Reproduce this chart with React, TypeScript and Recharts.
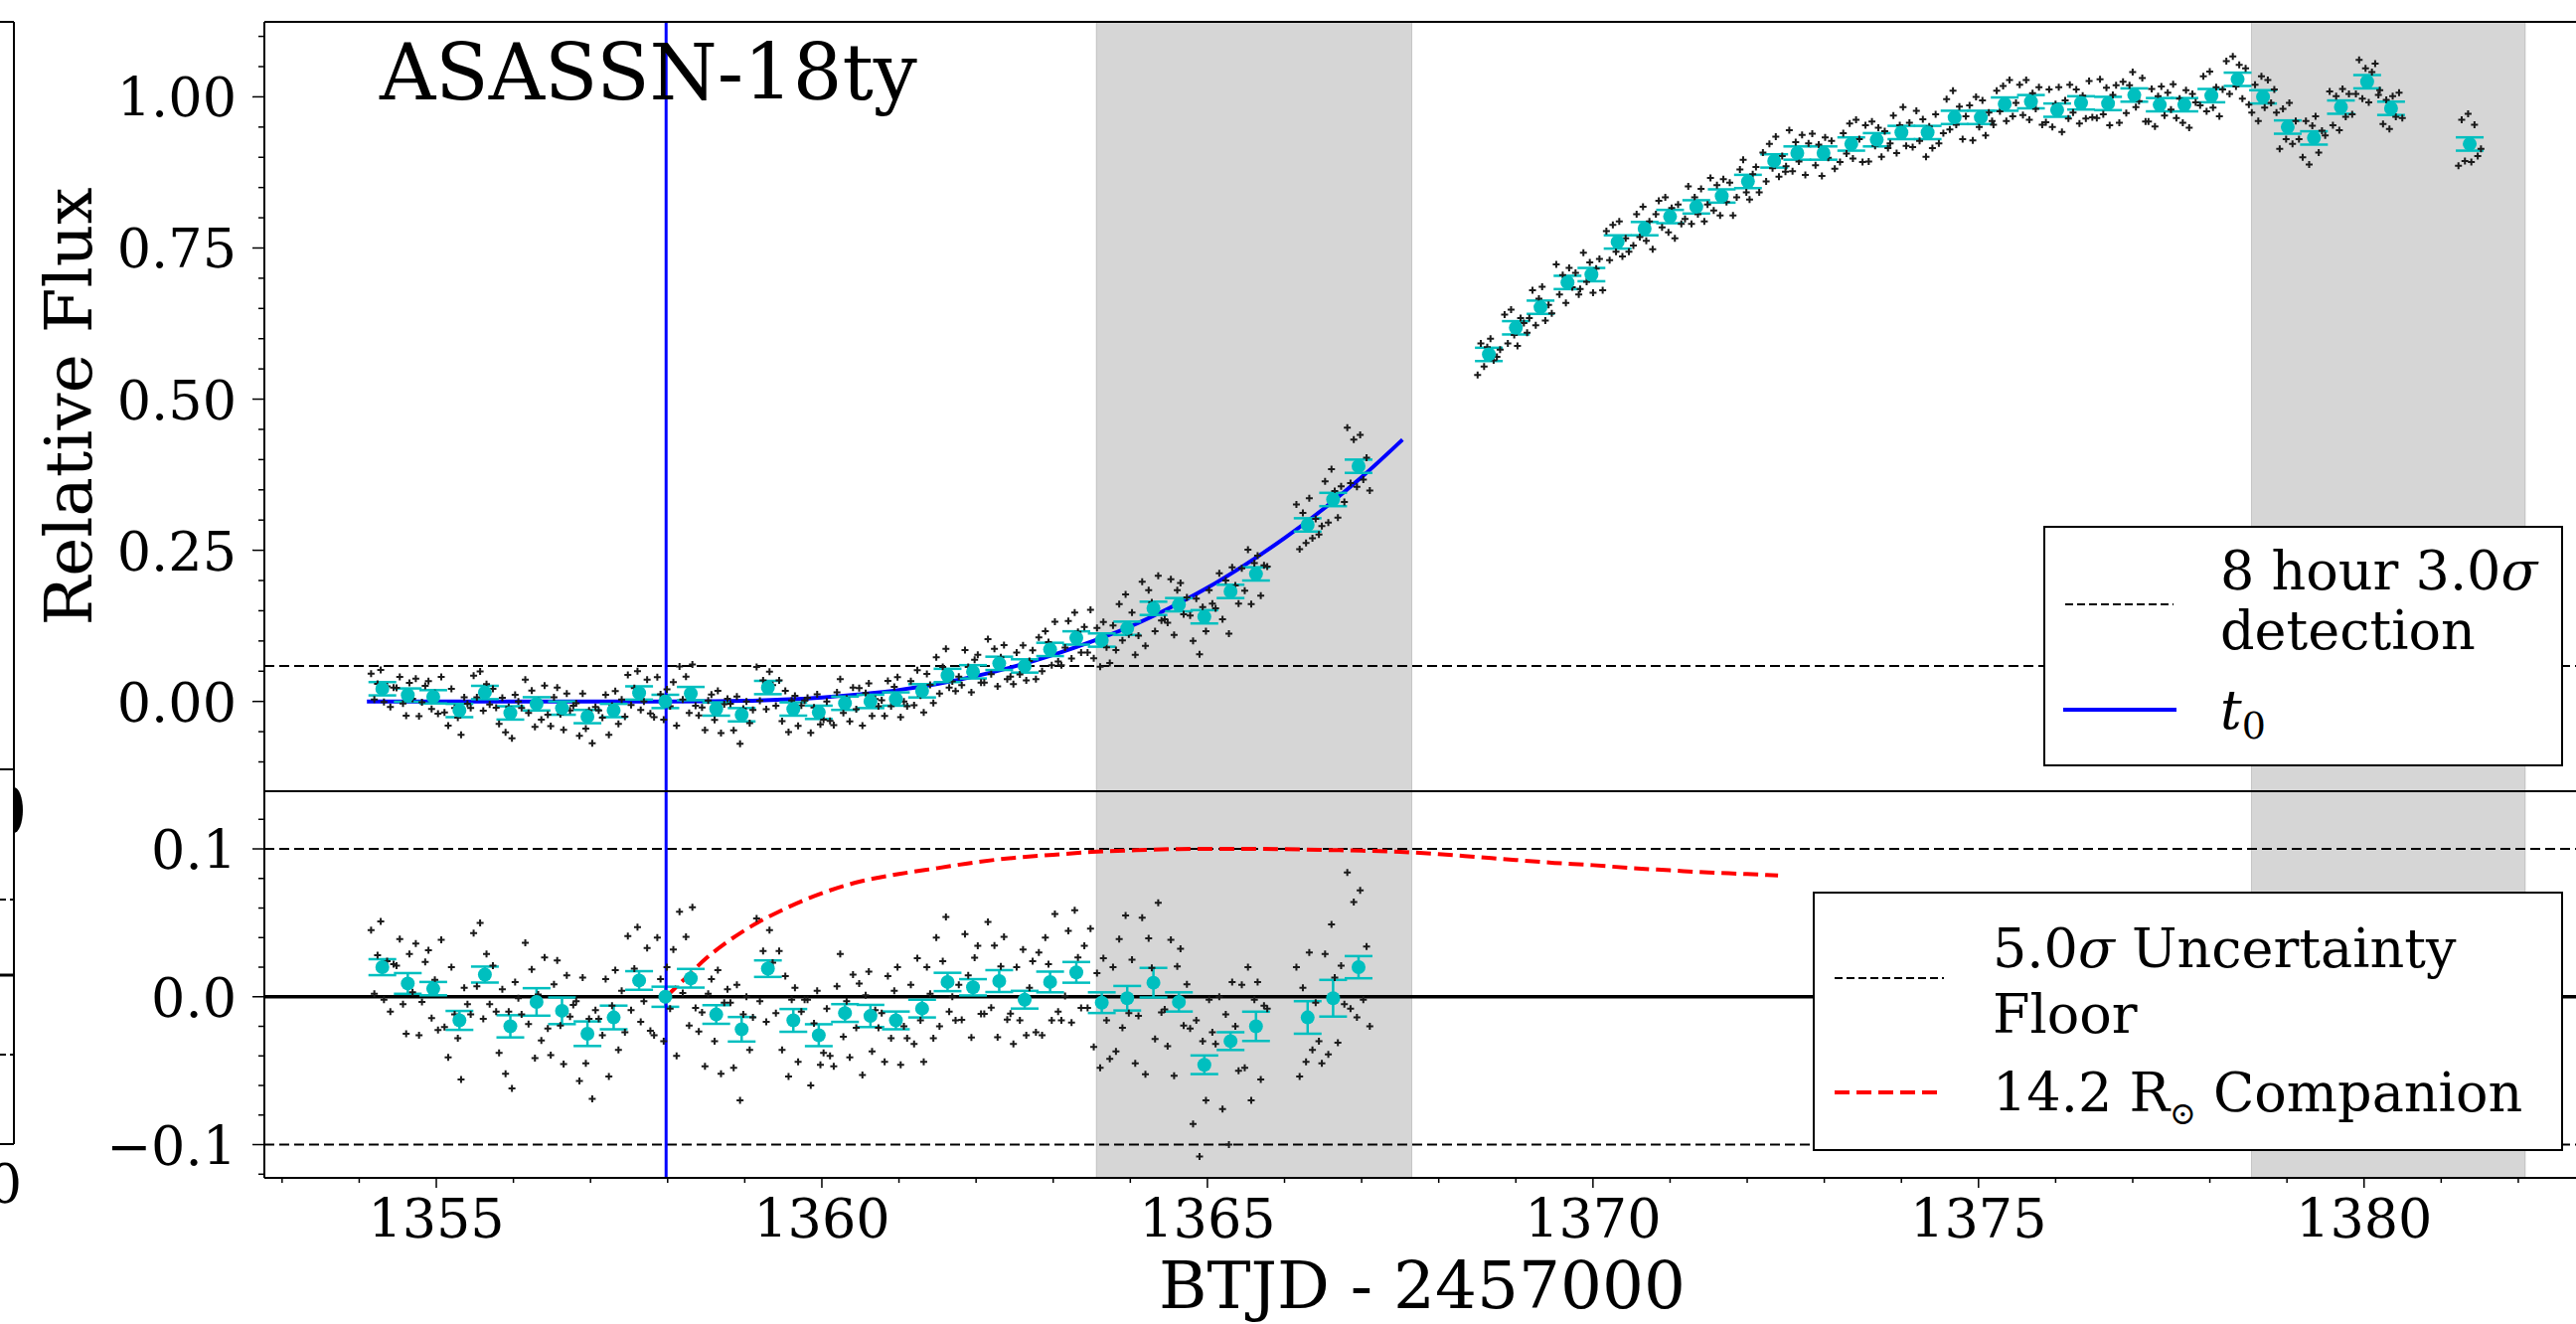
import React from 'react';
import { ComposedChart, Scatter, Line, XAxis, YAxis, ReferenceLine, ReferenceArea, ErrorBar } from 'recharts';

const FONT = '"DejaVu Serif", serif';
const CYAN = '#00bfbf';

// 8 hour bins, before the data gap (top: flux, bottom: residual from fit)
const earlyBinTime = [
  1354.30, 1354.63, 1354.96, 1355.30, 1355.63, 1355.96, 1356.30, 1356.63, 1356.96, 1357.30,
  1357.63, 1357.97, 1358.30, 1358.63, 1358.96, 1359.30, 1359.63, 1359.96, 1360.30, 1360.63,
  1360.96, 1361.30, 1361.63, 1361.96, 1362.30, 1362.63, 1362.96, 1363.30, 1363.63, 1363.96,
  1364.30, 1364.63, 1364.96, 1365.30, 1365.63, 1366.30, 1366.63, 1366.96,
];
const earlyBinFlux = [
  0.021, 0.0105, 0.0077, -0.015, 0.0148, -0.019, -0.004, -0.011, -0.025, -0.015,
  0.014, 0.0, 0.013, -0.0125, -0.022, 0.023, -0.0125, -0.018, -0.003, 0.0,
  0.004, 0.0176, 0.043, 0.049, 0.063, 0.0587, 0.086, 0.105, 0.1015, 0.121,
  0.154, 0.16, 0.14, 0.182, 0.211, 0.292, 0.334, 0.389,
];
const earlyBinResid = [
  0.02, 0.009, 0.0055, -0.016, 0.015, -0.02, -0.0035, -0.0095, -0.025, -0.014,
  0.011, 0.0, 0.0125, -0.012, -0.022, 0.019, -0.016, -0.026, -0.011, -0.013,
  -0.016, -0.008, 0.01, 0.0064, 0.0106, -0.002, 0.01, 0.0165, -0.004, -0.001,
  0.0095, -0.0035, -0.046, -0.03, -0.02, -0.014, -0.001, 0.02,
];
const earlyBinResidErr = [
  0.0054, 0.007, 0.0045, 0.0064, 0.0054, 0.0075, 0.0093, 0.009, 0.0083, 0.008,
  0.0063, 0.0068, 0.0063, 0.0063, 0.0083, 0.0056, 0.0077, 0.0074, 0.006, 0.0075,
  0.006, 0.006, 0.0062, 0.0055, 0.0074, 0.006, 0.007, 0.007, 0.007, 0.0083,
  0.01, 0.0065, 0.0063, 0.006, 0.0099, 0.011, 0.0124, 0.0075,
];

// 8 hour bins after the gap
const lateBinTime = [
  1368.65, 1369.0, 1369.32, 1369.67, 1369.98, 1370.32, 1370.67, 1371.0, 1371.34, 1371.67,
  1372.01, 1372.35, 1372.65, 1372.99, 1373.35, 1373.68, 1374.0, 1374.34, 1374.69, 1375.03,
  1375.34, 1375.68, 1376.02, 1376.33, 1376.68, 1377.02, 1377.35, 1377.67, 1378.02, 1378.36,
  1378.69, 1379.01, 1379.35, 1379.7, 1380.04, 1380.35, 1381.37,
];
const lateBinFlux = [
  0.574, 0.618, 0.652, 0.693, 0.706, 0.76, 0.782, 0.802, 0.818, 0.836,
  0.86, 0.894, 0.907, 0.907, 0.922, 0.929, 0.941, 0.941, 0.966, 0.966,
  0.988, 0.992, 0.978, 0.99, 0.989, 1.003, 0.987, 0.987, 1.002, 1.029,
  1.0, 0.95, 0.932, 0.983, 1.025, 0.981, 0.922,
];
const binFluxErr = 0.011;

// offsets of the raw cadences inside a bin (days)
const cadenceOffsets = [-0.146, -0.104, -0.062, -0.021, 0.021, 0.062, 0.104, 0.146];

// raw scatter around each bin, in units of 0.001
const earlyScatter = [
  [25, -18, 8, 31, -22, 4, -30, 2], [12, 30, -14, -34, 20, -6, 27, -35],
  [-9, 18, 26, -20, 6, -28, 33, -26], [-25, 36, 4, -12, -40, 22, 11, 4],
  [28, -8, 35, -30, 14, -20, 6, -25], [-18, 25, -32, 10, -42, 30, 19, 8],
  [40, -15, 22, -38, 5, -26, 30, -18], [-30, 18, 34, -10, -36, 24, -4, 4],
  [22, -32, 38, -20, 10, -44, 16, 10], [-12, 26, -40, 8, 32, -22, 18, -10],
  [30, -20, 8, 36, -28, -14, 22, -34], [-26, 40, 12, -30, 20, -8, 32, -40],
  [45, -10, 28, -32, 48, -20, -36, -23], [-35, 14, 24, -18, 30, -40, 8, 17],
  [18, -26, 30, -48, 10, 22, -14, 8], [34, -22, 12, -36, 26, 4, -30, 12],
  [-20, 30, -38, 14, 22, -28, 6, 14], [24, -34, 8, 30, -20, -12, 18, -14],
  [-36, 18, 40, -16, 8, -30, 26, -10], [22, -40, 14, 30, -24, 4, -8, 2],
  [-28, 30, -12, 20, 36, -30, -4, -12], [16, -24, 34, -8, -36, 28, 10, -20],
  [30, -30, 14, 44, -20, -10, -26, -2], [-22, 36, 8, -34, 20, 28, -18, -18],
  [40, -18, 24, -38, 10, 30, -26, -22], [-30, 22, -14, 34, -24, 8, 26, -22],
  [20, -36, 30, 12, -26, 46, -20, -26], [-16, 28, -34, 42, 10, -24, 18, -24],
  [50, -30, 20, -44, 30, -12, -38, 24], [-36, 40, -20, 56, -10, 26, -44, -12],
  [44, -62, 30, 10, -38, 54, -20, -18], [-30, 42, -50, 24, 36, -16, 12, -18],
  [-40, 30, -62, 16, -24, 44, 22, 14], [30, -46, 18, -70, 40, 10, -20, 38],
  [-28, 40, -50, 18, 30, -36, 14, 12], [34, -40, 20, -30, 44, -22, 10, -16],
  [-44, 30, -38, 50, 14, -30, 22, -4], [64, -28, 44, -34, 52, -22, 14, -40],
];
const lateScatter = [
  [-34, 18, -20, 12, 26, -10, -4, 8], [22, -26, 30, -12, -30, 16, 8, -8],
  [-18, 28, -30, 14, 34, -22, 4, -10], [30, -20, 12, -34, 24, -8, 16, -20],
  [-24, 36, -12, 20, -30, 10, 26, -26], [18, -30, 28, -16, 34, -24, 6, -16],
  [-28, 24, -14, 36, -20, 12, -34, 24], [26, -18, 32, -26, 14, -36, 20, -12],
  [-20, 34, -28, 16, -12, 30, -24, 4], [30, -24, 18, -32, 28, -10, 22, -32],
  [-26, 20, 36, -18, -30, 12, 24, -18], [14, -34, 28, -12, 40, -26, 8, -18],
  [-22, 38, -30, 18, -14, 30, -36, 16], [32, -20, 14, -38, 26, -8, 20, -26],
  [-30, 18, -16, 34, -24, 40, 8, -30], [24, -36, 30, -10, 20, -28, 14, -14],
  [-18, 28, -34, 12, 42, -22, 16, -24], [36, -14, 22, -40, 10, -26, 30, -18],
  [-26, 30, -20, 44, -12, 18, -36, 2], [20, -38, 34, -16, 28, -30, 8, -6],
  [-34, 22, -12, 30, -28, 40, -20, 2], [28, -22, 36, -30, 14, -12, 24, -38],
  [-20, 34, -28, 10, 38, -36, 16, -14], [30, -16, 22, -34, 12, -26, 36, -24],
  [-24, 40, -18, 26, -36, 14, 30, -32], [22, -30, 16, 38, -20, -10, 28, -44],
  [-28, 26, -36, 14, 30, -18, 20, -8], [34, -22, 10, -30, 24, -38, 18, 4],
  [-16, 32, -26, 40, -20, 14, -34, 10], [30, -24, 38, -12, 24, -32, 18, -42],
  [-26, 20, -40, 34, -18, 28, -10, 12], [24, -36, 30, -20, 40, -28, 10, -20],
  [-32, 28, -44, 20, 36, -24, 12, 4], [26, -30, 18, -38, 30, -16, 22, -12],
  [-20, 36, -28, 22, -34, 16, 30, -22], [30, -26, 14, -34, 20, -14, 26, -16],
  [-36, 40, -28, 50, -30, 32, -20, -8],
];

// power-law rise fit
const fitTime = [1354.1, 1355, 1356, 1357, 1357.98, 1358.5, 1359, 1359.5, 1360, 1360.5, 1361, 1361.5,
  1362, 1362.5, 1363, 1363.5, 1364, 1364.5, 1365, 1365.5, 1366, 1366.5, 1367, 1367.53];
const fitFlux = [0, 0, 0, 0, 0, 0.0002, 0.001, 0.003, 0.0066, 0.012, 0.019, 0.029,
  0.042, 0.058, 0.077, 0.099, 0.124, 0.154, 0.188, 0.227, 0.27, 0.318, 0.371, 0.433];

// companion interaction signal
const compTime = [1357.98, 1358.2, 1358.5, 1359, 1359.5, 1360, 1360.5, 1361, 1361.5, 1362, 1362.5,
  1363, 1363.5, 1364, 1364.5, 1365, 1365.5, 1366, 1366.5, 1367, 1367.5, 1368, 1368.5, 1369,
  1369.5, 1370, 1370.5, 1371, 1371.5, 1372, 1372.4];
const compResid = [0, 0.011, 0.026, 0.045, 0.059, 0.07, 0.078, 0.083, 0.087, 0.091, 0.094,
  0.096, 0.098, 0.099, 0.0998, 0.1, 0.1, 0.0998, 0.0993, 0.0988, 0.098, 0.0965, 0.0945, 0.0925,
  0.0905, 0.089, 0.087, 0.0855, 0.084, 0.083, 0.082];

const t0 = 1357.98;
const detectionLimit = 0.0587;
const floorLimit = 0.1;
const gapBands = [[1363.56, 1367.65], [1378.54, 1382.09]];

const xTicks = [1353, 1354, 1355, 1356, 1357, 1358, 1359, 1360, 1361, 1362, 1363, 1364, 1365, 1366, 1367,
  1368, 1369, 1370, 1371, 1372, 1373, 1374, 1375, 1376, 1377, 1378, 1379, 1380, 1381, 1382];
const fluxTicks = [-0.1, -0.05, 0, 0.05, 0.1, 0.15, 0.2, 0.25, 0.3, 0.35, 0.4, 0.45, 0.5, 0.55, 0.6,
  0.65, 0.7, 0.75, 0.8, 0.85, 0.9, 0.95, 1, 1.05, 1.1];
const residTicks = [-0.12, -0.1, -0.08, -0.06, -0.04, -0.02, 0, 0.02, 0.04, 0.06, 0.08, 0.1, 0.12];

const X_DOMAIN = [1352.77, 1382.8];

const fluxBins = [
  ...earlyBinTime.map((t, i) => ({ t, v: earlyBinFlux[i], err: binFluxErr })),
  ...lateBinTime.map((t, i) => ({ t, v: lateBinFlux[i], err: binFluxErr })),
];
const residBins = earlyBinTime.map((t, i) => ({ t, v: earlyBinResid[i], err: earlyBinResidErr[i] }));

const rawFlux: { t: number; v: number }[] = [];
const rawResid: { t: number; v: number }[] = [];
earlyBinTime.forEach((t, i) => {
  earlyScatter[i].forEach((s, j) => {
    rawFlux.push({ t: t + cadenceOffsets[j], v: earlyBinFlux[i] + s / 1000 });
    rawResid.push({ t: t + cadenceOffsets[j], v: earlyBinResid[i] + s / 1000 });
  });
});
lateBinTime.forEach((t, i) => {
  lateScatter[i].forEach((s, j) => {
    rawFlux.push({ t: t + cadenceOffsets[j], v: lateBinFlux[i] + s / 1000 });
  });
});

const fitCurve = fitTime.map((t, i) => ({ t, v: fitFlux[i] }));
const companionCurve = compTime.map((t, i) => ({ t, v: compResid[i] }));

const renderPlus = (p: any) => (
  <path d={`M${p.cx - 3.5},${p.cy}h7M${p.cx},${p.cy - 3.5}v7`} stroke="#1a1a1a" strokeWidth={2} />
);
const renderBin = (p: any) => <circle cx={p.cx} cy={p.cy} r={7} fill={CYAN} />;

const near = (v: number, step: number) => Math.abs(v / step - Math.round(v / step)) < 1e-6;

const FluxTick = (p: any) => {
  const v = p.payload.value;
  const major = near(v, 0.25);
  return (
    <g>
      <line x1={p.x} x2={p.x - (major ? 12 : 6)} y1={p.y} y2={p.y} stroke="#000" strokeWidth={1.5} />
      {major && (
        <text x={p.x - 28} y={p.y + 20} textAnchor="end" fontSize={54} fontFamily={FONT} fill="#000">
          {v.toFixed(2)}
        </text>
      )}
    </g>
  );
};

const ResidTick = (p: any) => {
  const v = p.payload.value;
  const major = near(v, 0.1);
  const label = v < 0 ? '\u2212' + Math.abs(v).toFixed(1) : v.toFixed(1);
  return (
    <g>
      <line x1={p.x} x2={p.x - (major ? 12 : 6)} y1={p.y} y2={p.y} stroke="#000" strokeWidth={1.5} />
      {major && (
        <text x={p.x - 28} y={p.y + 20} textAnchor="end" fontSize={54} fontFamily={FONT} fill="#000">
          {label}
        </text>
      )}
    </g>
  );
};

const TimeTick = (p: any) => {
  const v = p.payload.value;
  const major = near(v, 5);
  return (
    <g>
      <line x1={p.x} x2={p.x} y1={p.y} y2={p.y + (major ? 10 : 5)} stroke="#000" strokeWidth={1.5} />
      {major && (
        <text x={p.x} y={p.y + 60} textAnchor="middle" fontSize={54} fontFamily={FONT} fill="#000">
          {v}
        </text>
      )}
    </g>
  );
};

const bands = () =>
  gapBands.map(([a, b], i) => (
    <ReferenceArea key={`band-${i}`} x1={a} x2={b} fill="#808080" fillOpacity={0.32}
      stroke="#808080" strokeOpacity={0.35} />
  ));

const App: React.FC = () => {
  return (
    <div style={{ position: 'absolute', left: 0, top: 0, width: 2592, height: 1332, overflow: 'hidden', background: '#fff' }}>
      <div style={{ position: 'absolute', left: 0, top: 0 }}>
        <ComposedChart width={2600} height={800} margin={{ top: 22, right: 4, bottom: 4, left: 0 }}>
          <XAxis type="number" dataKey="t" domain={X_DOMAIN} hide allowDataOverflow />
          <YAxis type="number" dataKey="v" domain={[-0.1485, 1.124]} ticks={fluxTicks} interval={0}
            width={266} tickSize={0} tickMargin={0} tickLine={false}
            axisLine={{ stroke: '#000', strokeWidth: 2 }} tick={(p: any) => <FluxTick {...p} />} allowDataOverflow />
          {bands()}
          <ReferenceLine y={detectionLimit} stroke="#000" strokeWidth={2} strokeDasharray="10 5" />
          <Scatter data={rawFlux} shape={renderPlus} isAnimationActive={false} />
          <Line data={fitCurve} dataKey="v" type="monotone" stroke="#0000ff" strokeWidth={4}
            dot={false} isAnimationActive={false} />
          <Scatter data={fluxBins} shape={renderBin} isAnimationActive={false}>
            <ErrorBar dataKey="err" direction="y" width={14} stroke={CYAN} strokeWidth={2.5} isAnimationActive={false} />
          </Scatter>
          <ReferenceLine x={t0} stroke="#0000ff" strokeWidth={3} />
        </ComposedChart>
      </div>

      <div style={{ position: 'absolute', left: 0, top: 700 }}>
        <ComposedChart width={2600} height={632} margin={{ top: 96, right: 4, bottom: 0, left: 0 }}>
          <XAxis type="number" dataKey="t" domain={X_DOMAIN} ticks={xTicks} interval={0} height={147}
            tickSize={0} tickMargin={0} tickLine={false} axisLine={{ stroke: '#000', strokeWidth: 2 }}
            tick={(p: any) => <TimeTick {...p} />} allowDataOverflow />
          <YAxis type="number" dataKey="v" domain={[-0.1225, 0.139]} ticks={residTicks} interval={0}
            width={266} tickSize={0} tickMargin={0} tickLine={false}
            axisLine={{ stroke: '#000', strokeWidth: 2 }} tick={(p: any) => <ResidTick {...p} />} allowDataOverflow />
          {bands()}
          <ReferenceLine y={floorLimit} stroke="#000" strokeWidth={2} strokeDasharray="10 5" />
          <ReferenceLine y={-floorLimit} stroke="#000" strokeWidth={2} strokeDasharray="10 5" />
          <ReferenceLine y={0} stroke="#000" strokeWidth={3.5} />
          <Scatter data={rawResid} shape={renderPlus} isAnimationActive={false} />
          <Line data={companionCurve} dataKey="v" type="monotone" stroke="#ff0000" strokeWidth={4}
            strokeDasharray="15 7" dot={false} isAnimationActive={false} />
          <Scatter data={residBins} shape={renderBin} isAnimationActive={false}>
            <ErrorBar dataKey="err" direction="y" width={14} stroke={CYAN} strokeWidth={2.5} isAnimationActive={false} />
          </Scatter>
          <ReferenceLine x={t0} stroke="#0000ff" strokeWidth={3} />
        </ComposedChart>
      </div>

      <svg width={2592} height={1332} style={{ position: 'absolute', left: 0, top: 0, pointerEvents: 'none' }}
        fontFamily={FONT}>
        <line x1={266} x2={2592} y1={22} y2={22} stroke="#000" strokeWidth={2} />
        <line x1={266} x2={2592} y1={796} y2={796} stroke="#000" strokeWidth={2} />

        {/* edge of the neighbouring panel */}
        <line x1={14} x2={14} y1={22} y2={1151} stroke="#000" strokeWidth={2} />
        <line x1={0} x2={14} y1={22} y2={22} stroke="#000" strokeWidth={2} />
        <line x1={0} x2={14} y1={774} y2={774} stroke="#000" strokeWidth={2} />
        <path d="M14,792 A9,23 0 0 1 14,838 Z" fill="#000" />
        <line x1={0} x2={14} y1={905} y2={905} stroke="#000" strokeWidth={2} strokeDasharray="6 4" />
        <line x1={0} x2={14} y1={981} y2={981} stroke="#000" strokeWidth={3} />
        <line x1={0} x2={14} y1={1061} y2={1061} stroke="#000" strokeWidth={2} strokeDasharray="6 4" />
        <line x1={0} x2={14} y1={1151} y2={1151} stroke="#000" strokeWidth={2} />
        <text x={5} y={1210} textAnchor="middle" fontSize={54}>0</text>

        <text x={382} y={100} fontSize={78}>ASASSN-18ty</text>
        <text transform="translate(92,409) rotate(-90)" textAnchor="middle" fontSize={66}>Relative Flux</text>
        <text x={1431} y={1316} textAnchor="middle" fontSize={66}>BTJD - 2457000</text>

        <rect x={2057} y={530} width={521} height={240} fill="#fff" stroke="#000" strokeWidth={2} />
        <line x1={2078} x2={2187} y1={608} y2={608} stroke="#000" strokeWidth={2} strokeDasharray="8 4" />
        <text x={2234} y={593} fontSize={54}>8 hour 3.0<tspan fontStyle="italic">σ</tspan></text>
        <text x={2234} y={653} fontSize={54}>detection</text>
        <line x1={2076} x2={2190} y1={714} y2={714} stroke="#0000ff" strokeWidth={4} />
        <text x={2234} y={733} fontSize={54}>
          <tspan fontStyle="italic">t</tspan>
          <tspan fontSize={38} dy={10}>0</tspan>
        </text>

        <rect x={1825} y={898} width={753} height={259} fill="#fff" stroke="#000" strokeWidth={2} />
        <line x1={1846} x2={1956} y1={984} y2={984} stroke="#000" strokeWidth={2} strokeDasharray="8 4" />
        <text x={2005} y={973} fontSize={54}>5.0<tspan fontStyle="italic">σ</tspan> Uncertainty</text>
        <text x={2005} y={1039} fontSize={54}>Floor</text>
        <line x1={1846} x2={1956} y1={1099} y2={1099} stroke="#ff0000" strokeWidth={4} strokeDasharray="15 7" />
        <text x={2005} y={1118} fontSize={54}>
          14.2 R<tspan fontSize={32} dy={13}>{'\u2299'}</tspan>
          <tspan dy={-13}> Companion</tspan>
        </text>
      </svg>
    </div>
  );
};

export default App;
